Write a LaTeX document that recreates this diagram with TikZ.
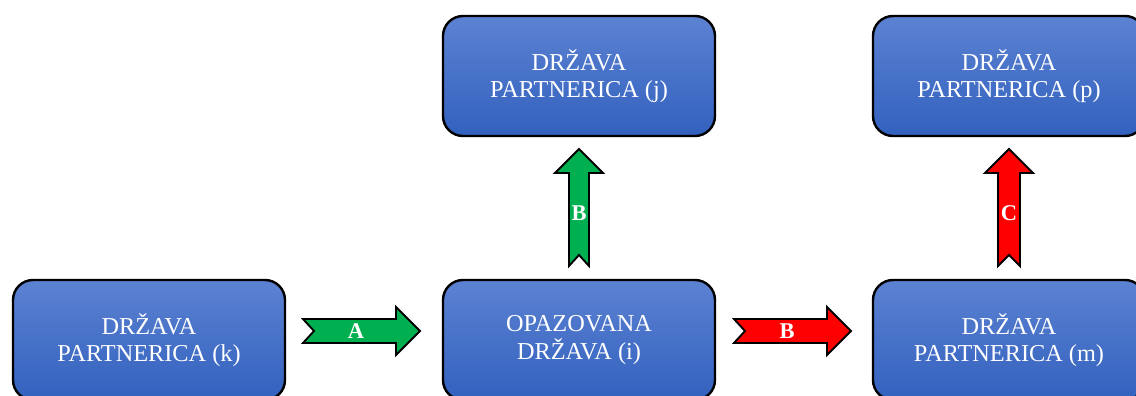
\documentclass[tikz,border=0pt]{standalone}
\usepackage{fontspec}
\setmainfont{Liberation Serif}
\usetikzlibrary{calc}
\definecolor{boxtop}{RGB}{92,130,210}
\definecolor{boxbot}{RGB}{50,97,190}
\definecolor{agreen}{RGB}{0,176,80}
\definecolor{ared}{RGB}{255,0,0}
\tikzset{
  country/.style={draw=black, line width=2.4pt, rounded corners=20pt,
    top color=boxtop, bottom color=boxbot, minimum width=272pt, minimum height=120pt,
    text=white, align=center, font=\fontsize{24.3}{27.5}\selectfont, inner sep=0pt},
  arrowline/.style={draw=black, line width=1.9pt, line join=miter},
  arrowlabel/.style={text=white, font=\fontsize{22.5}{22.5}\selectfont\bfseries, inner sep=0pt},
  pics/barrow/.style n args={3}{code={
    \path[arrowline, fill=#1] (-58,#2) -- (35,#2) -- (35,24) -- (59,0) -- (35,-24)
      -- (35,-#2) -- (-58,-#2) -- (-47,0) -- cycle;
    \node[arrowlabel] at (-5,0) {#3};
  }}
}
\begin{document}
\begin{tikzpicture}[x=1pt, y=-1pt]
\useasboundingbox (0,0) rectangle (1136,396);
\clip (0,0) rectangle (1136,396);
\node[country] (k) at (149,340) {DRŽAVA\\PARTNERICA (k)};
\node[country] (i) at (579,340) {OPAZOVANA\\DRŽAVA (i)};
\node[country] (m) at (1009,340) {DRŽAVA\\PARTNERICA (m)};
\node[country] (j) at (579,76) {DRŽAVA\\PARTNERICA (j)};
\node[country] (p) at (1009,76) {DRŽAVA\\PARTNERICA (p)};
\pic at ($(k.east)!0.5!(i.west)+(-3,-9)$) {barrow={agreen}{12}{A}};
\pic at ($(i.east)!0.5!(m.west)+(-2,-9)$) {barrow={ared}{12}{B}};
\pic[rotate=90] at ($(j.south)!0.5!(i.north)$) {barrow={agreen}{10}{B}};
\pic[rotate=90] at ($(p.south)!0.5!(m.north)$) {barrow={ared}{11}{C}};
\end{tikzpicture}
\end{document}
